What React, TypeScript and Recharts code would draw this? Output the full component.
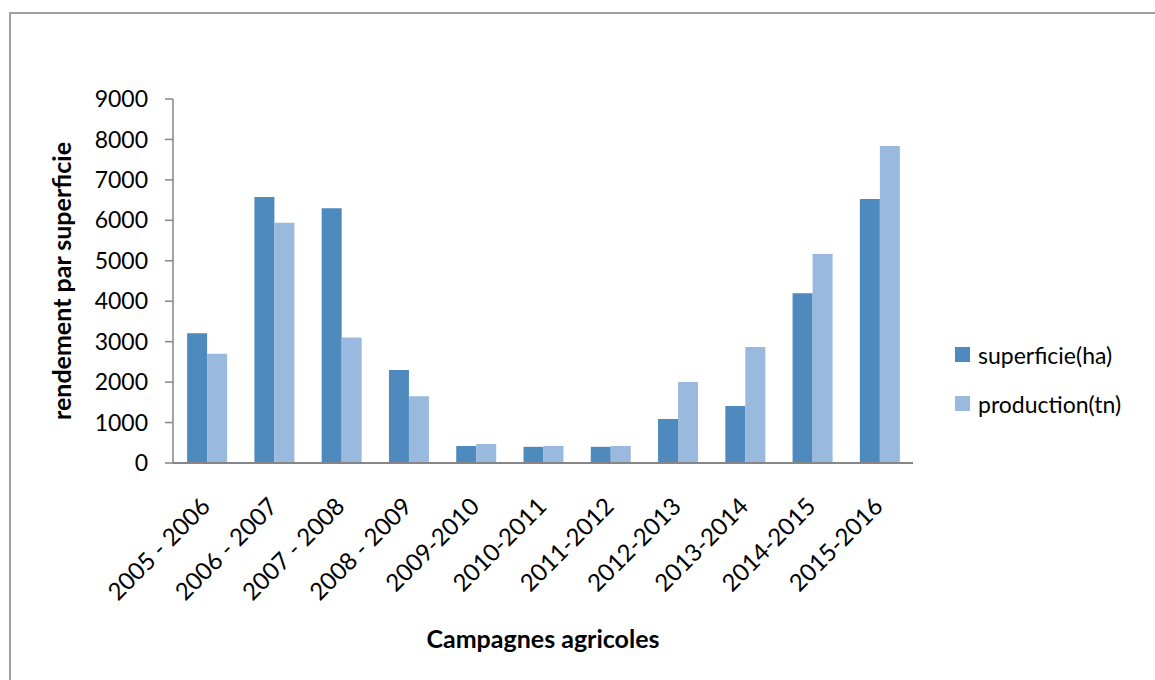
import { Bar, BarChart, XAxis, YAxis } from "recharts";

const campaigns = [
  "2005 - 2006",
  "2006 - 2007",
  "2007 - 2008",
  "2008 - 2009",
  "2009-2010",
  "2010-2011",
  "2011-2012",
  "2012-2013",
  "2013-2014",
  "2014-2015",
  "2015-2016",
];
const superficie = [3210, 6580, 6300, 2300, 420, 400, 400, 1090, 1410, 4200, 6530];
const production = [2700, 5940, 3100, 1650, 470, 420, 420, 2000, 2870, 5170, 7840];
const yTicks = [0, 1000, 2000, 3000, 4000, 5000, 6000, 7000, 8000, 9000];
const seriesNames = ["superficie(ha)", "production(tn)"];

const FONT = "Lato, 'Open Sans', sans-serif";
const DARK = "#4F8ABE";
const LIGHT = "#99B9DF";
const AXIS = "#868686";

const data = campaigns.map((c, i) => ({
  name: c,
  sup: superficie[i],
  prod: production[i],
}));

function XTick(props: any) {
  const { x, y, payload } = props;
  return (
    <g transform={`translate(${x + 5},${y + 45})`}>
      <text
        transform="rotate(-45)"
        textAnchor="end"
        fill="#000"
        fontSize={24}
        fontFamily={FONT}
      >
        {payload.value}
      </text>
    </g>
  );
}

// legend drawn beside the chart so it doesn't eat plot space
function LegendBox() {
  const colors = [DARK, LIGHT];
  return (
    <div
      style={{
        position: "absolute",
        left: 955,
        top: 330,
        fontFamily: FONT,
        fontSize: 23,
        color: "#000",
      }}
    >
      {seriesNames.map((label, i) => (
        <div
          key={label}
          style={{ display: "flex", alignItems: "center", height: 49 }}
        >
          <span
            style={{
              width: 15,
              height: 15,
              background: colors[i],
              marginRight: 8,
              display: "inline-block",
            }}
          />
          <span>{label}</span>
        </div>
      ))}
    </div>
  );
}

export default function App() {
  return (
    <div
      style={{
        position: "fixed",
        left: 0,
        top: 0,
        width: 1155,
        height: 680,
        background: "#fff",
        overflow: "hidden",
      }}
    >
      <div
        style={{
          position: "absolute",
          left: 9,
          top: 12,
          width: 1200,
          height: 700,
          borderLeft: "2px solid #a0a0a0",
          borderTop: "2px solid #a0a0a0",
        }}
      />
      <BarChart
        width={1155}
        height={680}
        data={data}
        margin={{ top: 99, right: 242, left: 100, bottom: 0 }}
        barCategoryGap="21%"
        barGap={0}
        style={{ position: "absolute", left: 0, top: 0 }}
      >
        <XAxis
          dataKey="name"
          height={217}
          tickLine={false}
          tickSize={0}
          tickMargin={0}
          interval={0}
          axisLine={{ stroke: AXIS, strokeWidth: 2 }}
          tick={<XTick />}
          label={{
            content: () => (
              <text
                x={543}
                y={648}
                textAnchor="middle"
                fontSize={25}
                fontWeight="bold"
                fontFamily={FONT}
                fill="#000"
              >
                Campagnes agricoles
              </text>
            ),
          }}
        />
        <YAxis
          width={73}
          domain={[0, 9000]}
          ticks={yTicks}
          interval={0}
          tickSize={8}
          tickMargin={17}
          axisLine={{ stroke: AXIS, strokeWidth: 1.5 }}
          tickLine={{ stroke: AXIS, strokeWidth: 1.5 }}
          tick={{ fill: "#000", fontSize: 23, fontFamily: FONT }}
          label={{
            content: () => (
              <text
                x={71}
                y={281}
                transform="rotate(-90 71 281)"
                textAnchor="middle"
                fontSize={25}
                fontWeight="bold"
                fontFamily={FONT}
                fill="#000"
              >
                rendement par superficie
              </text>
            ),
          }}
        />
        <Bar dataKey="sup" name={seriesNames[0]} fill={DARK} isAnimationActive={false} />
        <Bar dataKey="prod" name={seriesNames[1]} fill={LIGHT} isAnimationActive={false} />
      </BarChart>
      <LegendBox />
    </div>
  );
}
